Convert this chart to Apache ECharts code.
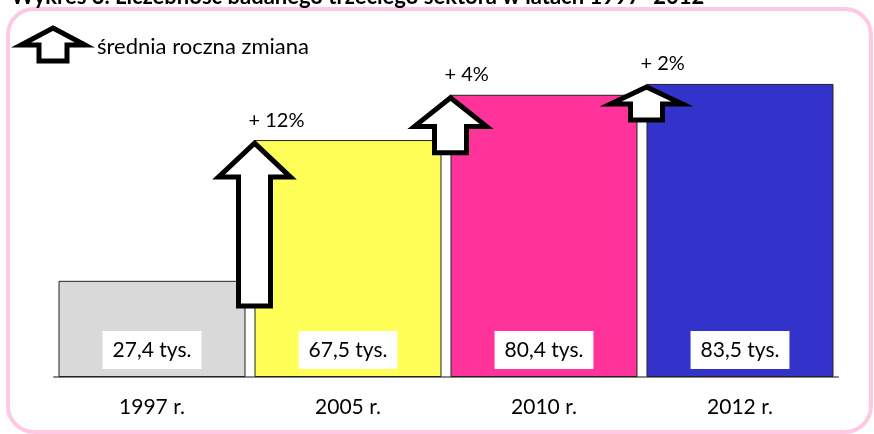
<!DOCTYPE html>
<html>
<head>
<meta charset="utf-8">
<script src="https://cdn.jsdelivr.net/npm/echarts@6/dist/echarts.min.js"></script>
<style>
  html, body { margin: 0; padding: 0; background: #fff; }
  #main { width: 874px; height: 434px; }
</style>
</head>
<body>
<div id="main"></div>
<script>
  // dane z wykresu
  var years = ['1997 r.', '2005 r.', '2010 r.', '2012 r.'];
  var counts = [27.4, 67.5, 80.4, 83.5];
  var barColors = ['#d9d9d9', '#ffff57', '#ff3399', '#3333cc'];
  var changeYear = [1, 2, 3];
  var changePct = [12, 4, 2];

  var font = 'Lato';
  var myChart = echarts.init(document.getElementById('main'));

  // strzałka: szpic w (tx, ty), długość L
  function arrowPoints(tx, ty, L, hw, sw, hh) {
    return [
      [tx, ty], [tx + hw, ty + hh], [tx + sw, ty + hh], [tx + sw, ty + L],
      [tx - sw, ty + L], [tx - sw, ty + hh], [tx - hw, ty + hh]
    ];
  }

  var arrowData = changeYear.map(function (c, i) {
    return [c, counts[c], changePct[i]];
  });

  var option = {
    backgroundColor: '#ffffff',
    animation: false,
    title: {
      text: 'Wykres 3. Liczebność badanego trzeciego sektora w latach 1997–2012',
      left: 6,
      top: -19,
      textStyle: { fontFamily: font, fontSize: 22, fontWeight: 'bold', color: '#000' }
    },
    grid: { left: 54, right: 36, top: 26, bottom: 57 },
    xAxis: {
      type: 'category',
      data: years,
      axisLine: { lineStyle: { color: '#868686', width: 2 } },
      axisTick: { show: false },
      axisLabel: { fontFamily: font, fontSize: 21, color: '#000', margin: 20 }
    },
    yAxis: {
      type: 'value',
      min: 0,
      max: 100,
      show: false,
      splitLine: { show: false }
    },
    graphic: [
      {
        type: 'rect',
        shape: { x: 8, y: 9, width: 863, height: 423, r: 26 },
        style: { fill: 'none', stroke: '#ffc9e4', lineWidth: 4 },
        z: 0
      },
      {
        type: 'polygon',
        shape: { points: arrowPoints(53, 28, 33, 32, 14, 17) },
        style: { fill: '#fff', stroke: '#000', lineWidth: 5, lineJoin: 'miter' },
        z: 100
      },
      {
        type: 'text',
        left: 97,
        top: 36,
        style: { text: 'średnia roczna zmiana', fontFamily: font, fontSize: 22, fill: '#000' },
        z: 100
      }
    ],
    series: [
      {
        type: 'bar',
        barCategoryGap: '4.6%',
        data: counts.map(function (v, i) {
          return { value: v, itemStyle: { color: barColors[i] } };
        }),
        itemStyle: { borderColor: '#222', borderWidth: 1 },
        label: {
          show: true,
          position: 'insideBottom',
          distance: 8,
          backgroundColor: '#fff',
          padding: [9, 10, 8, 10],
          fontFamily: font,
          fontSize: 21,
          color: '#000',
          formatter: function (p) {
            return String(p.value).replace('.', ',') + ' tys.';
          }
        },
        z: 2
      },
      {
        type: 'custom',
        data: arrowData,
        encode: { x: 0, y: 1 },
        z: 10,
        renderItem: function (params, api) {
          var c = api.coord([api.value(0), api.value(1)]);
          var band = api.size([1, 0])[0];
          var tx = c[0] - band * 0.477;
          var ty = c[1] + 3;
          var pct = api.value(2);
          var L = Math.max(33, pct * 13.5 + 1);
          var hh = Math.min(34, L * 0.52);
          return {
            type: 'group',
            children: [
              {
                type: 'polygon',
                shape: { points: arrowPoints(tx, ty, L, 36, 16, hh) },
                style: { fill: '#fff', stroke: '#000', lineWidth: 5, lineJoin: 'miter' }
              },
              {
                type: 'text',
                style: {
                  text: '+ ' + pct + '%',
                  x: tx - 6,
                  y: ty - 23,
                  align: 'left',
                  verticalAlign: 'middle',
                  fontFamily: font,
                  fontSize: 20,
                  fill: '#000'
                }
              }
            ]
          };
        }
      }
    ]
  };

  myChart.setOption(option);
</script>
</body>
</html>
